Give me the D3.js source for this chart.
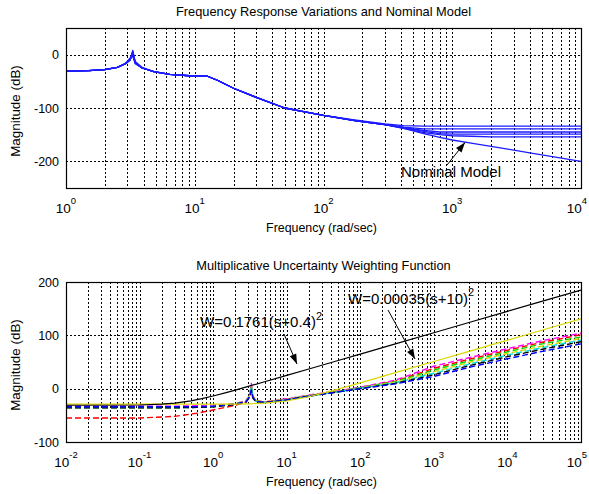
<!DOCTYPE html>
<html><head><meta charset="utf-8">
<script src="https://cdn.jsdelivr.net/npm/d3@7"></script>
<style>
body{margin:0;background:#fff;}
svg text{font-family:"Liberation Sans",Arial,Helvetica,sans-serif;fill:#000;}
</style></head><body>
<svg id="chart" width="589" height="494"></svg>
<script>
// ---------- DATA ----------
// Top plot: frequency grid (rad/sec) and magnitude (dB)
const topFreq = [1, 1.5, 2, 2.5, 2.9, 3.15, 3.3, 3.45, 3.9, 4.8, 6.4, 9.7, 12.4, 15, 20, 30, 50, 70, 100, 180, 300, 420, 600, 800, 1000, 1400, 2000, 2700, 4000, 10000];
const nominalDb = [-31,-30,-28,-24,-17,-10,8,-15,-25,-32,-37,-40,-40,-48,-63,-80,-100,-107,-114,-124,-131,-138,-148,-155,-160,-166,-172,-177,-184,-200];
const variation1Db = [-31,-30,-28,-24,-17,-10,5,-14,-25,-32,-37,-40,-40,-48,-63,-80,-100,-107,-114,-123,-130,-133,-134,-134,-134,-134,-134,-134,-134,-134];
const variation2Db = [-31,-30,-28,-24,-17,-9,2,-13,-24,-32,-37,-40,-40,-48,-63,-80,-100,-107,-114,-124,-131,-136,-139,-139,-139,-139,-139,-139,-139,-139];
const variation3Db = [-31,-30,-28,-24,-16,-6,-3,-17,-25,-32,-37,-40,-40,-48,-63,-80,-100,-107,-114,-124,-131,-137,-142,-145,-145,-145,-145,-145,-145,-145];
const variation4Db = [-31,-30,-28,-24,-17,-10,6,-15,-25,-32,-37,-40,-40,-48,-63,-80,-100,-107,-114,-124,-131,-137,-144,-148,-149,-149,-149,-149,-149,-149];
const variation5Db = [-31,-30,-28,-24,-17,-8,0,-16,-25,-32,-37,-40,-40,-48,-63,-80,-100,-107,-114,-124,-131,-138,-146,-150,-152,-153,-154,-154,-154,-154];
const topYTicks = [0, -100, -200];
const topXTicks = [1, 10, 100, 1000, 10000];

// Bottom plot: weighting functions
const wFreq = [0.01, 0.1, 0.2, 0.3, 0.5, 0.7, 1, 1.5, 2, 3, 5, 10, 20, 50, 100, 300, 1000, 3000, 10000, 30000, 100000];
const w1Db = [-31.1,-30.6,-29.1,-27.1,-22.9,-18.8,-13.8,-7.4,-2.7,4.2,12.9,24.9,36.9,52.9,64.9,84.0,104.9,124.0,144.9,164.0,184.9];
const w2Db = [-29.1,-29.1,-29.1,-29.1,-29.1,-29.1,-29.0,-29.0,-28.9,-28.4,-27.2,-23.1,-15.1,-0.8,11.0,30.0,50.9,70.0,90.9,110.0,130.9];
// Bottom plot: multiplicative uncertainty curves
const botFreq = [0.01, 0.1, 0.3, 0.6, 1, 2, 2.8, 3.15, 3.3, 3.45, 3.8, 5, 10, 20, 50, 100, 300, 1000, 3000, 10000, 30000, 100000];
const uncMagenta = [-33,-33,-33,-32,-31,-28,-22,-12,10,-12,-22,-25,-19,-12,-4,3,16,42,58,75,90,104];
const uncRed     = [-55,-55,-52,-46,-40,-31,-25,-14,4,-14,-23,-25,-20,-13,-5,2,14,38,55,72,87,101];
const uncGreen   = [-36,-36,-36,-35,-34,-29,-24,-13,6,-15,-23,-26,-20,-13,-5,2,13,35,52,69,84,97];
const uncYellow  = [-35,-35,-35,-34,-33,-28,-23,-11,0,-13,-22,-25,-20,-13,-5,1,12,32,49,66,80,94];
const uncCyan    = [-35,-35,-35,-34,-33,-29,-24,-14,3,-16,-24,-26,-21,-14,-6,1,11,29,46,63,77,91];
const uncBlack   = [-36,-36,-36,-35,-34,-30,-25,-15,-4,-17,-24,-26,-21,-14,-6,0,10,26,43,60,74,88];
const uncBlue    = [-34,-34,-34,-34,-33,-29,-24,-15,-2,-15,-23,-26,-21,-14,-6,0,9,23,40,56,70,84];
const botYTicks = [-100, 0, 100, 200];
const botXTicks = [0.01, 0.1, 1, 10, 100, 1000, 10000, 100000];

// ---------- CHART ----------
const svg = d3.select("#chart");

function panel(cfg) {
  const x = d3.scaleLog().domain(cfg.xDomain).range([cfg.left, cfg.right]);
  const y = d3.scaleLinear().domain(cfg.yDomain).range([cfg.bottom, cfg.top]);
  const g = svg.append("g");
  // grid
  const minor = [];
  const d0 = Math.round(Math.log10(cfg.xDomain[0])), d1 = Math.round(Math.log10(cfg.xDomain[1]));
  for (let d = d0; d < d1; d++) for (let m = 1; m <= 9; m++) {
    const f = m * Math.pow(10, d);
    if (f > cfg.xDomain[0] * 1.0001) minor.push(f);
  }
  g.selectAll(".vg").data(minor).enter().append("line")
    .attr("x1", d => Math.round(x(d)) + 0.5).attr("x2", d => Math.round(x(d)) + 0.5)
    .attr("y1", cfg.top).attr("y2", cfg.bottom)
    .attr("stroke", "#000").attr("stroke-width", 1).attr("stroke-dasharray", "2,2");
  const yg = cfg.yTicks.filter(v => v > cfg.yDomain[0] && v < cfg.yDomain[1]);
  g.selectAll(".hg").data(yg).enter().append("line")
    .attr("y1", d => Math.round(y(d)) + 0.5).attr("y2", d => Math.round(y(d)) + 0.5)
    .attr("x1", cfg.left).attr("x2", cfg.right)
    .attr("stroke", "#000").attr("stroke-width", 1).attr("stroke-dasharray", "2,2");
  // axes via d3 (ticks hidden under grid)
  const ax = g.append("g").attr("transform", `translate(0,${cfg.bottom})`)
    .call(d3.axisBottom(x).tickValues(cfg.xTicks).tickSize(0).tickFormat(""));
  ax.select(".domain").remove();
  const ay = g.append("g").attr("transform", `translate(${cfg.left},0)`)
    .call(d3.axisLeft(y).tickValues(cfg.yTicks).tickSize(0).tickFormat(""));
  ay.select(".domain").remove();
  // tick labels
  cfg.xTicks.forEach((t, i) => {
    const e = Math.round(Math.log10(t));
    const last = i === cfg.xTicks.length - 1;
    const tx = g.append("text").attr("x", last ? x(t) - 4 : x(t)).attr("y", cfg.bottom + 24.5)
      .attr("text-anchor", "middle").attr("font-size", "13.5px");
    tx.append("tspan").text("10");
    tx.append("tspan").attr("dy", -9).attr("font-size", "9.5px").text(String(e));
  });
  cfg.yTicks.forEach(t => {
    g.append("text").attr("x", cfg.left - 7).attr("y", y(t) + 4.5)
      .attr("text-anchor", "end").attr("font-size", "12.5px").text(String(t));
  });
  // labels
  g.append("text").attr("x", (cfg.left + cfg.right) / 2).attr("y", cfg.top - 12)
    .attr("text-anchor", "middle").attr("font-size", "12.8px").text(cfg.title);
  g.append("text").attr("x", (cfg.left + cfg.right) / 2 - 2).attr("y", cfg.bottom + 44)
    .attr("text-anchor", "middle").attr("font-size", "12.4px").text("Frequency (rad/sec)");
  g.append("text").attr("transform", `translate(20,${(cfg.top + cfg.bottom) / 2 + 3}) rotate(-90)`)
    .attr("text-anchor", "middle").attr("font-size", "13.4px").text("Magnitude (dB)");
  return {x, y, g};
}

function box(p, cfg) {
  p.g.append("rect").attr("x", cfg.left + 0.5).attr("y", cfg.top + 0.5)
    .attr("width", cfg.right - cfg.left).attr("height", cfg.bottom - cfg.top)
    .attr("fill", "none").attr("stroke", "#000").attr("stroke-width", 1.2);
}

function drawLine(p, freqs, vals, color, width, dash, clipId) {
  const line = d3.line().x((d, i) => p.x(freqs[i])).y(d => p.y(d)).curve(d3.curveLinear);
  p.g.append("path").datum(vals).attr("d", line)
    .attr("fill", "none").attr("stroke", color).attr("stroke-width", width)
    .attr("stroke-dasharray", dash || null).attr("stroke-linejoin", "round")
    .attr("clip-path", `url(#${clipId})`);
}

function arrow(g, x1, y1, x2, y2) {
  g.append("line").attr("x1", x1).attr("y1", y1).attr("x2", x2).attr("y2", y2)
    .attr("stroke", "#000").attr("stroke-width", 1);
  const a = Math.atan2(y2 - y1, x2 - x1), L = 10, W = 3.5;
  const bx = x2 - L * Math.cos(a), by = y2 - L * Math.sin(a);
  const px = -Math.sin(a) * W, py = Math.cos(a) * W;
  g.append("path").attr("d", `M${x2},${y2}L${bx + px},${by + py}L${bx - px},${by - py}Z`).attr("fill", "#000");
}

const topCfg = {left: 66, right: 581, top: 28, bottom: 188, xDomain: [1, 10000], yDomain: [-250, 50],
  yTicks: topYTicks, xTicks: topXTicks, title: "Frequency Response Variations and Nominal Model"};
const botCfg = {left: 66, right: 581, top: 282, bottom: 442, xDomain: [0.01, 100000], yDomain: [-100, 200],
  yTicks: botYTicks, xTicks: botXTicks, title: "Multiplicative Uncertainty Weighting Function"};

const defs = svg.append("defs");
[["clipTop", topCfg], ["clipBot", botCfg]].forEach(([id, c]) => {
  defs.append("clipPath").attr("id", id).append("rect")
    .attr("x", c.left).attr("y", c.top).attr("width", c.right - c.left).attr("height", c.bottom - c.top);
});

const pTop = panel(topCfg);
const BLUE = "#1c1cff";
[variation1Db, variation2Db, variation3Db, variation4Db, variation5Db, nominalDb].forEach(v =>
  drawLine(pTop, topFreq, v, BLUE, 1.3, null, "clipTop"));
box(pTop, topCfg);
pTop.g.append("text").attr("x", 401).attr("y", 177).attr("font-size", "15px").text("Nominal Model");
arrow(pTop.g, 447, 165, 465, 142.5);

const pBot = panel(botCfg);
const unc = [[uncMagenta, "#ff00ff"], [uncRed, "#ff0000"], [uncGreen, "#00dd00"], [uncYellow, "#d8d800"],
  [uncCyan, "#00dddd"], [uncBlack, "#000000"], [uncBlue, "#0000ff"]];
unc.forEach(([v, c]) => drawLine(pBot, botFreq, v, c, 1.4, "6,3", "clipBot"));
drawLine(pBot, wFreq, w2Db, "#d8d800", 1.2, null, "clipBot");
drawLine(pBot, wFreq, w1Db, "#000", 1.2, null, "clipBot");
box(pBot, botCfg);

const t1 = pBot.g.append("text").attr("x", 200).attr("y", 326.5).attr("font-size", "15px");
t1.append("tspan").text("W=0.1761(s+0.4)");
t1.append("tspan").attr("dy", -7).attr("font-size", "11px").text("2");
arrow(pBot.g, 284, 334, 297, 364);
const t2 = pBot.g.append("text").attr("x", 348).attr("y", 303.5).attr("font-size", "15px");
t2.append("tspan").text("W=0.00035(s+10)");
t2.append("tspan").attr("dy", -8).attr("font-size", "11px").text("2");
arrow(pBot.g, 388, 310, 415, 359);
</script>
</body></html>
